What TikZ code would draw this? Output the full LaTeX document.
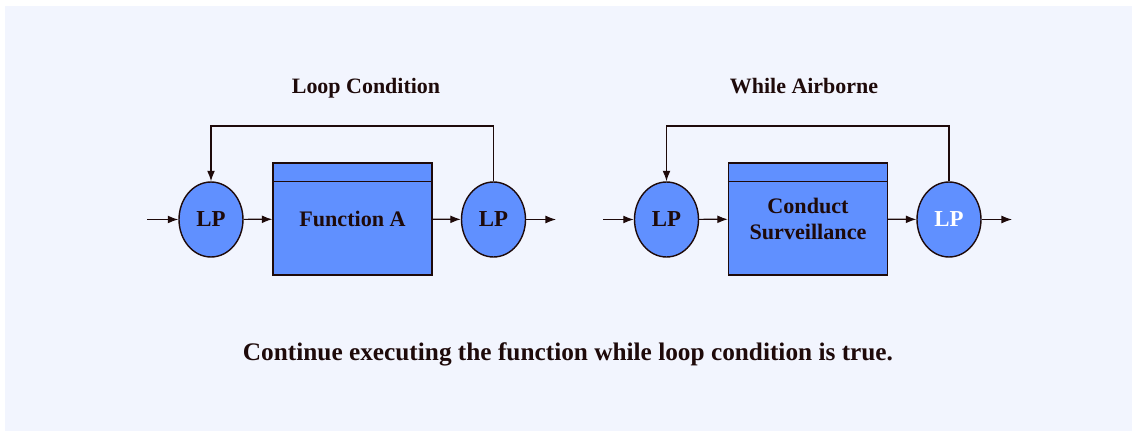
\documentclass[tikz,border=0pt]{standalone}
\usepackage{fontspec}
\setmainfont{Liberation Serif}
\usetikzlibrary{arrows.meta,shapes.geometric}
\definecolor{panel}{HTML}{F2F5FE}
\definecolor{lpblue}{HTML}{6090FF}
\definecolor{ink}{HTML}{1E0A0A}
\tikzset{
  lpnode/.style={draw=ink, line width=0.8pt, fill=lpblue, ellipse, minimum width=1.28cm, minimum height=1.5cm, inner sep=0pt, font=\fontsize{13}{15}\selectfont\bfseries, text=ink},
  funcbox/.style={draw=ink, line width=0.8pt, fill=lpblue, minimum width=3.18cm, minimum height=2.24cm, inner sep=0pt, align=center, font=\fontsize{12.6}{15}\selectfont\bfseries, text=ink},
  arr/.style={draw=ink, line width=0.7pt, -{Latex[length=6pt,width=4.5pt]}},
  caption/.style={font=\fontsize{12.5}{15}\selectfont\bfseries, text=ink, text height=0.7em, text depth=0.22em}
}
\begin{document}
\begin{tikzpicture}[x={(0.02cm,0)}, y={(0,-0.02cm)}]
\useasboundingbox (0,0) rectangle (1137,435);
\fill[white] (0,0) rectangle (1137,435);
\fill[panel] (5,6) rectangle (1132,431);

% loop condition
\node[caption] (t1) at (366,89) {Loop Condition};
\node[lpnode] (lp1) at (211,219.5) {LP};
\node[funcbox] (fa) at (352.5,219) {Function A};
\node[lpnode] (lp2) at (493.5,219.5) {LP};
\draw[ink, line width=0.8pt] ([yshift=-0.38cm]fa.north west) -- ([yshift=-0.38cm]fa.north east);
\coordinate (in1) at (147,219.5);
\coordinate (out1) at (556,219.5);
\coordinate (top1) at (211,126);
\draw[arr] (in1) -- (lp1);
\draw[arr] (lp1) -- (fa);
\draw[arr] (fa) -- (lp2);
\draw[arr] (lp2) -- (out1);
\draw[arr] (lp2.north) |- (top1) -- (lp1.north);

% while airborne
\node[caption] (t2) at (804,89) {While Airborne};
\node[lpnode] (lp3) at (666.5,219.5) {LP};
\node[funcbox] (fb) at (808,219) {Conduct\\Surveillance};
\node[lpnode, text=white] (lp4) at (949,219.5) {LP};
\draw[ink, line width=0.8pt] ([yshift=-0.38cm]fb.north west) -- ([yshift=-0.38cm]fb.north east);
\coordinate (in2) at (603,219.5);
\coordinate (out2) at (1012,219.5);
\coordinate (top2) at (666.5,126);
\draw[arr] (in2) -- (lp3);
\draw[arr] (lp3) -- (fb);
\draw[arr] (fb) -- (lp4);
\draw[arr] (lp4) -- (out2);
\draw[arr] (lp4.north) |- (top2) -- (lp3.north);

\node[caption, font=\fontsize{14.4}{16}\selectfont\bfseries] (note) at (568,356) {Continue executing the function while loop condition is true.};
\end{tikzpicture}
\end{document}
